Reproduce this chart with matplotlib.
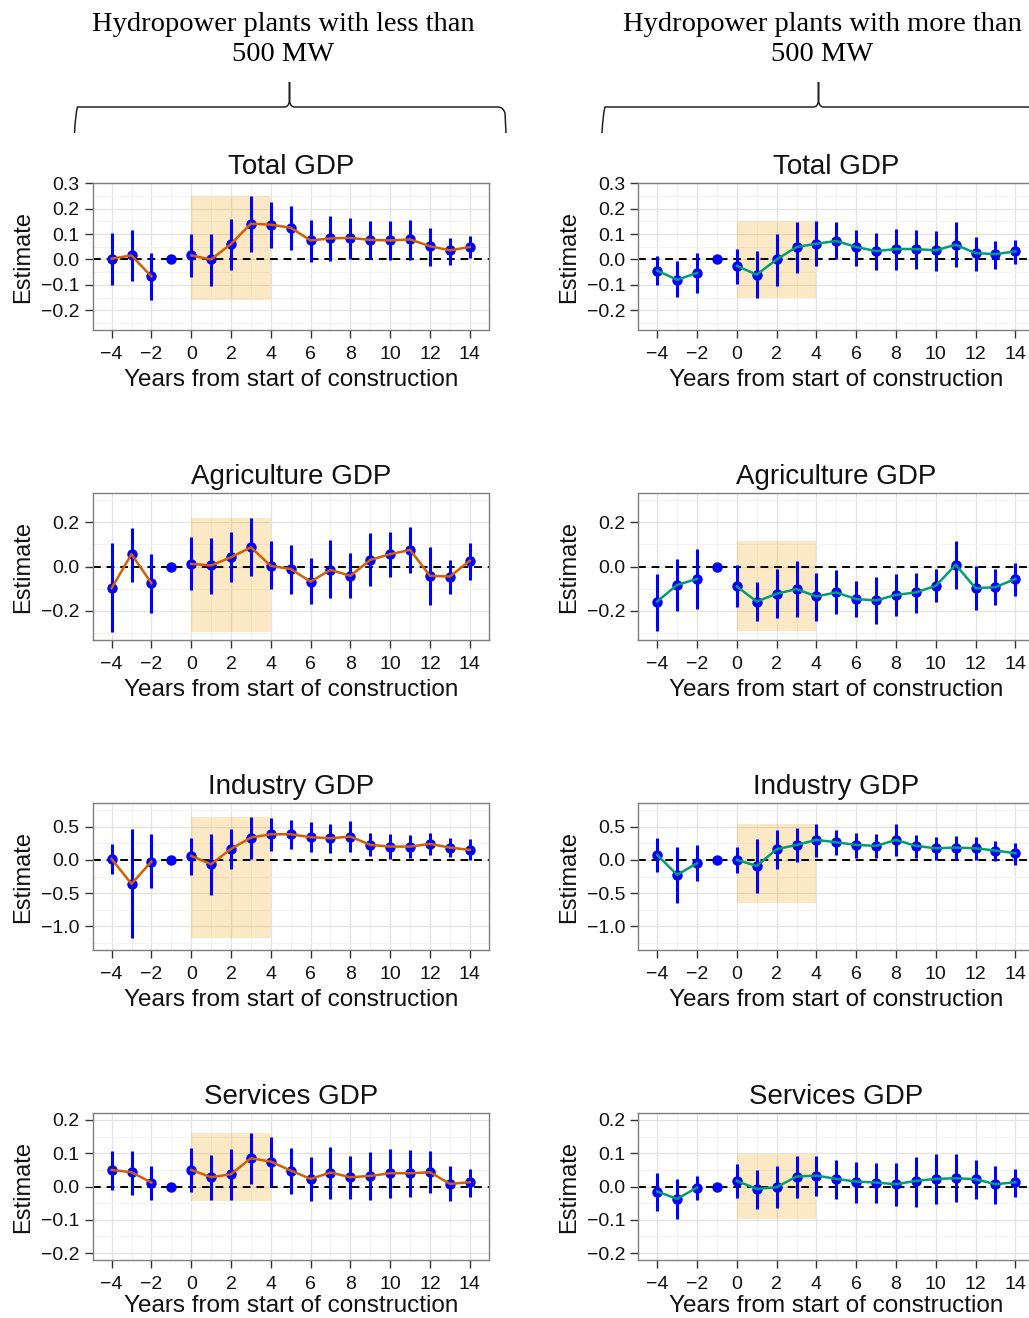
import numpy as np
import matplotlib
matplotlib.use('Agg')
import matplotlib.pyplot as plt
from matplotlib.path import Path
from matplotlib.patches import PathPatch
from matplotlib.ticker import MultipleLocator

plt.rcParams['font.family'] = ['Liberation Sans', 'DejaVu Sans']

# --- dados ---
years = [-4, -3, -2, -1, 0, 1, 2, 3, 4, 5, 6, 7, 8, 9, 10, 11, 12, 13, 14]
nan = np.nan

# Total GDP, < 500 MW
total_small_est = [0.003, 0.016, -0.067, 0, 0.016, 0.0, 0.061, 0.141, 0.137, 0.125, 0.075, 0.083, 0.085, 0.077, 0.075, 0.079, 0.052, 0.036, 0.049]
total_small_lo = [-0.100, -0.083, -0.160, nan, -0.070, -0.106, -0.041, 0.030, 0.045, 0.038, -0.010, -0.007, 0.003, 0.003, -0.004, -0.001, -0.024, -0.020, 0.007]
total_small_hi = [0.106, 0.115, 0.024, nan, 0.102, 0.102, 0.161, 0.250, 0.227, 0.210, 0.155, 0.170, 0.164, 0.152, 0.152, 0.157, 0.125, 0.086, 0.092]

# Total GDP, > 500 MW
total_large_est = [-0.044, -0.080, -0.053, 0, -0.025, -0.060, 0.0, 0.049, 0.062, 0.073, 0.049, 0.033, 0.041, 0.041, 0.036, 0.058, 0.025, 0.021, 0.032]
total_large_lo = [-0.100, -0.149, -0.133, nan, -0.096, -0.152, -0.103, -0.053, -0.025, 0.003, -0.025, -0.040, -0.041, -0.038, -0.044, -0.030, -0.044, -0.037, -0.017]
total_large_hi = [0.015, -0.007, 0.025, nan, 0.042, 0.032, 0.099, 0.148, 0.150, 0.148, 0.118, 0.103, 0.120, 0.116, 0.111, 0.147, 0.089, 0.074, 0.078]

# Agriculture GDP, < 500 MW
agri_small_est = [-0.098, 0.056, -0.075, 0, 0.012, 0.005, 0.042, 0.087, 0.003, -0.011, -0.068, -0.015, -0.042, 0.030, 0.056, 0.075, -0.042, -0.045, 0.026]
agri_small_lo = [-0.298, -0.068, -0.208, nan, -0.105, -0.123, -0.072, -0.042, -0.102, -0.125, -0.170, -0.143, -0.140, -0.090, -0.048, -0.027, -0.173, -0.123, -0.060]
agri_small_hi = [0.108, 0.173, 0.057, nan, 0.132, 0.131, 0.158, 0.218, 0.116, 0.098, 0.038, 0.119, 0.060, 0.150, 0.158, 0.177, 0.087, 0.030, 0.108]

# Agriculture GDP, > 500 MW
agri_large_est = [-0.158, -0.083, -0.056, 0, -0.090, -0.158, -0.123, -0.102, -0.135, -0.117, -0.147, -0.153, -0.128, -0.117, -0.087, 0.008, -0.098, -0.093, -0.056]
agri_large_lo = [-0.289, -0.203, -0.191, nan, -0.185, -0.245, -0.233, -0.230, -0.248, -0.215, -0.229, -0.259, -0.223, -0.210, -0.158, -0.102, -0.198, -0.173, -0.132]
agri_large_hi = [-0.033, 0.035, 0.078, nan, 0.008, -0.071, -0.012, 0.023, -0.030, -0.015, -0.065, -0.048, -0.035, -0.027, -0.011, 0.116, 0.003, -0.012, 0.015]

# Industry GDP, < 500 MW
ind_small_est = [0.015, -0.360, -0.025, 0, 0.060, -0.065, 0.165, 0.335, 0.385, 0.385, 0.340, 0.325, 0.350, 0.225, 0.200, 0.200, 0.240, 0.185, 0.150]
ind_small_lo = [-0.215, -1.175, -0.425, nan, -0.225, -0.525, -0.140, 0.015, 0.135, 0.165, 0.115, 0.105, 0.120, 0.060, 0.010, 0.035, 0.075, 0.050, 0.000]
ind_small_hi = [0.235, 0.460, 0.385, nan, 0.335, 0.385, 0.465, 0.640, 0.635, 0.600, 0.565, 0.535, 0.590, 0.400, 0.385, 0.375, 0.410, 0.325, 0.310]

# Industry GDP, > 500 MW
ind_large_est = [0.075, -0.225, -0.050, 0, 0.0, -0.090, 0.160, 0.225, 0.300, 0.265, 0.225, 0.210, 0.300, 0.210, 0.175, 0.185, 0.175, 0.140, 0.100]
ind_large_lo = [-0.175, -0.650, -0.310, nan, -0.200, -0.500, -0.140, -0.035, 0.040, 0.075, 0.030, 0.035, 0.060, 0.025, 0.000, 0.000, 0.000, -0.010, -0.075]
ind_large_hi = [0.325, 0.200, 0.225, nan, 0.200, 0.315, 0.450, 0.485, 0.545, 0.450, 0.410, 0.385, 0.540, 0.375, 0.350, 0.360, 0.350, 0.285, 0.260]

# Services GDP, < 500 MW
serv_small_est = [0.050, 0.043, 0.012, 0, 0.050, 0.028, 0.037, 0.085, 0.075, 0.048, 0.023, 0.042, 0.028, 0.032, 0.040, 0.040, 0.043, 0.008, 0.013]
serv_small_lo = [-0.010, -0.025, -0.040, nan, -0.017, -0.040, -0.040, 0.007, 0.000, -0.023, -0.042, -0.037, -0.038, -0.040, -0.035, -0.030, -0.020, -0.044, -0.030]
serv_small_hi = [0.107, 0.107, 0.062, nan, 0.115, 0.095, 0.113, 0.162, 0.148, 0.115, 0.088, 0.120, 0.092, 0.105, 0.113, 0.110, 0.108, 0.062, 0.053]

# Services GDP, > 500 MW
serv_large_est = [-0.015, -0.037, -0.003, 0, 0.017, -0.007, -0.002, 0.030, 0.033, 0.023, 0.015, 0.012, 0.007, 0.017, 0.023, 0.025, 0.022, 0.007, 0.013]
serv_large_lo = [-0.072, -0.097, -0.040, nan, -0.035, -0.068, -0.063, -0.035, -0.028, -0.038, -0.048, -0.050, -0.058, -0.062, -0.053, -0.047, -0.038, -0.053, -0.030]
serv_large_hi = [0.042, 0.022, 0.033, nan, 0.068, 0.050, 0.063, 0.093, 0.092, 0.080, 0.075, 0.072, 0.070, 0.090, 0.097, 0.098, 0.080, 0.062, 0.052]

row_titles = ['Total GDP', 'Agriculture GDP', 'Industry GDP', 'Services GDP']
col_headers = ['Hydropower plants with less than\n500 MW', 'Hydropower plants with more than\n500 MW']
line_colors = ['#D55E00', '#009E73']

panels = [
    [(total_small_est, total_small_lo, total_small_hi), (total_large_est, total_large_lo, total_large_hi)],
    [(agri_small_est, agri_small_lo, agri_small_hi), (agri_large_est, agri_large_lo, agri_large_hi)],
    [(ind_small_est, ind_small_lo, ind_small_hi), (ind_large_est, ind_large_lo, ind_large_hi)],
    [(serv_small_est, serv_small_lo, serv_small_hi), (serv_large_est, serv_large_lo, serv_large_hi)],
]

# limites e ticks do eixo y por linha
ylims = [(-0.277, 0.3), (-0.331, 0.331), (-1.35, 0.85), (-0.22, 0.22)]
ymajor = [0.1, 0.2, 0.5, 0.1]

W, H = 1029, 1318
fig = plt.figure(figsize=(W / 100, H / 100), dpi=100)

col_x = [92.7, 638.3]
row_top = [183.3, 493.3, 803.3, 1113.3]
ax_w, ax_h = 396, 146.5

x = np.array(years)
for r in range(4):
    for c in range(2):
        est, lo, hi = [np.array(v, dtype=float) for v in panels[r][c]]
        ax = fig.add_axes([col_x[c] / W, 1 - (row_top[r] + ax_h) / H, ax_w / W, ax_h / H])
        ax.set_xlim(-4.95, 14.95)
        ax.set_ylim(*ylims[r])
        ax.xaxis.set_major_locator(MultipleLocator(2))
        ax.xaxis.set_minor_locator(MultipleLocator(1))
        ax.yaxis.set_major_locator(MultipleLocator(ymajor[r]))
        ax.yaxis.set_minor_locator(MultipleLocator(ymajor[r] / 2))
        ax.grid(which='major', color='#E3E3E3', lw=0.9, zorder=0)
        ax.grid(which='minor', color='#F2F2F2', lw=0.7, zorder=0)
        ax.set_axisbelow(True)
        for s in ax.spines.values():
            s.set_color('#7F7F7F')
            s.set_linewidth(1.0)
        ax.tick_params(which='major', direction='out', length=5.5, width=1.0,
                       color='#333333', labelsize=14, pad=4, labelcolor='#111111')
        ax.tick_params(axis='x', which='major', pad=6)
        ax.tick_params(which='minor', length=0)
        ax.xaxis.set_major_formatter(matplotlib.ticker.FuncFormatter(
            lambda v, p: ('\u2212%d' % -v) if v < 0 else '%d' % v))
        ax.yaxis.set_major_formatter(matplotlib.ticker.FuncFormatter(
            lambda v, p: ('\u2212%.1f' % -v) if v < -1e-9 else '%.1f' % abs(v)))

        # faixa de construção (anos 0 a 4)
        ax.fill_between([0, 4], np.nanmin(lo), np.nanmax(hi), color='#F3A717',
                        alpha=0.25, lw=0, zorder=1)
        ax.axhline(0, color='black', lw=1.4, ls=(0, (4, 3)), zorder=2)
        ax.vlines(x, lo, hi, color='blue', lw=2.2, zorder=3)
        ax.plot(x, est, 'o', color='blue', ms=6.5, zorder=4)
        pre = x < -1
        post = x >= 0
        ax.plot(x[pre], est[pre], color=line_colors[c], lw=1.8, zorder=5)
        ax.plot(x[post], est[post], color=line_colors[c], lw=1.8, zorder=5)

        ax.set_title(row_titles[r], fontsize=20, pad=7, color='#111111')
        ax.set_xlabel('Years from start of construction', fontsize=17.5, labelpad=4.5, color='#111111')
        ax.set_ylabel('Estimate', fontsize=17, labelpad=5, color='#111111')
        if r == 3:
            # última linha: manter o rótulo dentro da figura
            ax.xaxis.label.set_va('bottom')
            ax.xaxis.set_label_coords(0.5, -(H - 1 - (row_top[r] + ax_h)) / ax_h)

# chaves e cabeçalhos
def brace(x0, x1, xm, y_line, y_end, y_tip):
    verts = [(x0, y_end), (x0 + 1, y_line + 6), (x0 + 3, y_line), (x0 + 8, y_line),
             (xm - 5, y_line), (xm - 1, y_line), (xm, y_line - 6), (xm, y_tip),
             (xm, y_line - 6), (xm + 1, y_line), (xm + 5, y_line),
             (x1 - 8, y_line), (x1 - 3, y_line), (x1 - 1, y_line + 6), (x1, y_end)]
    codes = [Path.MOVETO, Path.CURVE3, Path.CURVE3, Path.LINETO,
             Path.LINETO, Path.CURVE3, Path.CURVE3, Path.LINETO,
             Path.LINETO, Path.CURVE3, Path.CURVE3,
             Path.LINETO, Path.CURVE3, Path.CURVE3, Path.LINETO]
    verts = [(vx / W, 1 - vy / H) for vx, vy in verts]
    fig.patches.append(PathPatch(Path(verts, codes), transform=fig.transFigure,
                                 fill=False, edgecolor='#222222', lw=1.1))

brace(74.5, 506, 289.5, 107, 133, 82)
brace(602, 1035, 818.5, 107, 133, 82)

for cx, txt in zip([283, 822], col_headers):
    fig.text(cx / W, 1 - 39.5 / H, txt, ha='center', va='center', fontsize=20.5,
             family='Liberation Serif', linespacing=1.3)

fig.savefig('out.png', dpi=100)
